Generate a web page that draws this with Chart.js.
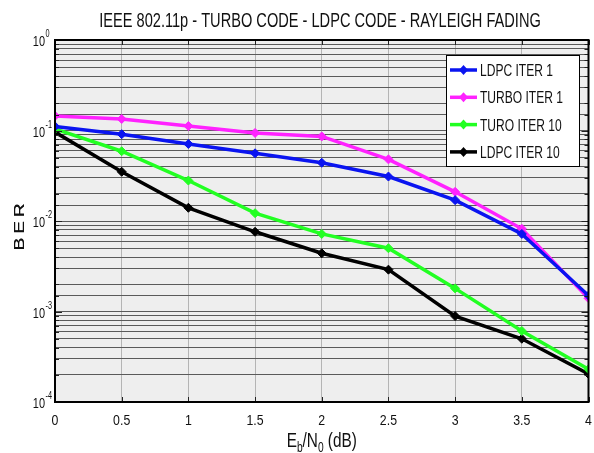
<!DOCTYPE html>
<html>
<head>
<meta charset="utf-8">
<script src="https://cdn.jsdelivr.net/npm/chart.js@4.4.1/dist/chart.umd.min.js"></script>
<style>
    body { margin: 0; background: #fff; }
    #box { width: 594px; height: 453px; }
</style>
</head>
<body>
<div id="box"><canvas id="graficoBer" width="594" height="453"></canvas></div>
<script>
// dados
const ebno = [0, 0.5, 1, 1.5, 2, 2.5, 3, 3.5, 4];
const ldpcIter1 = [0.111, 0.091, 0.071, 0.056, 0.044, 0.031, 0.017, 0.0072, 0.0015];
const turboIter1 = [0.145, 0.134, 0.112, 0.094, 0.086, 0.048, 0.021, 0.0082, 0.0014];
const turoIter10 = [0.104, 0.059, 0.028, 0.0122, 0.0072, 0.005, 0.0018, 0.00061, 0.00023];
const ldpcIter10 = [0.096, 0.035, 0.014, 0.0076, 0.0044, 0.0029, 0.00089, 0.0005, 0.000204];
const xTicks = ['0', '0.5', '1', '1.5', '2', '2.5', '3', '3.5', '4'];
const yDecadas = [0, -1, -2, -3, -4];

const fonte = "'Liberation Sans', Arial, sans-serif";
const aperto = 0.73; // texto da figura original e estreito

// escreve texto comprimido na horizontal
function texto(ctx, str, x, y, tam, alinha, esc) {
    ctx.save();
    ctx.font = tam + 'px ' + fonte;
    ctx.textAlign = alinha || 'left';
    ctx.textBaseline = 'alphabetic';
    ctx.translate(x, y);
    ctx.scale(esc || aperto, 1);
    ctx.fillText(str, 0, 0);
    ctx.restore();
}

function largura(ctx, str, tam) {
    ctx.font = tam + 'px ' + fonte;
    return ctx.measureText(str).width * aperto;
}

function serie(nome, cor, valores) {
    return {
        label: nome,
        data: ebno.map((x, i) => ({ x: x, y: valores[i] })),
        borderColor: cor,
        backgroundColor: cor,
        borderWidth: 3.5,
        pointStyle: 'rectRot',
        pointRadius: 4.5,
        pointBorderWidth: 1,
        tension: 0
    };
}

// fundo cinza, ticks internos, rotulos e legenda
const pluginDesenho = {
    id: 'desenho',
    beforeDraw(chart) {
        const { ctx, chartArea: a } = chart;
        ctx.save();
        ctx.fillStyle = '#eeeeee';
        ctx.fillRect(a.left, a.top, a.right - a.left, a.bottom - a.top);
        ctx.restore();
    },
    afterDraw(chart) {
        const { ctx, chartArea: a } = chart;
        const sx = chart.scales.x, sy = chart.scales.y;
        ctx.save();

        // ticks internos
        ctx.strokeStyle = '#222';
        ctx.lineWidth = 1;
        ctx.beginPath();
        xTicks.forEach(t => {
            const px = Math.round(sx.getPixelForValue(parseFloat(t))) + 0.5;
            ctx.moveTo(px, a.top); ctx.lineTo(px, a.top + 5);
            ctx.moveTo(px, a.bottom); ctx.lineTo(px, a.bottom - 5);
        });
        sy.ticks.forEach(t => {
            const py = Math.round(sy.getPixelForValue(t.value)) + 0.5;
            const m = Math.abs(Math.log10(t.value) - Math.round(Math.log10(t.value))) < 1e-6;
            const len = m ? 7 : 4;
            ctx.moveTo(a.right, py); ctx.lineTo(a.right - len, py);
            ctx.moveTo(a.left, py); ctx.lineTo(a.left + len, py);
        });
        ctx.stroke();

        // borda
        ctx.strokeStyle = '#000';
        ctx.lineWidth = 2;
        ctx.strokeRect(a.left, a.top, a.right - a.left, a.bottom - a.top);

        ctx.fillStyle = '#111';

        // rotulos eixo x
        xTicks.forEach(t => {
            texto(ctx, t, sx.getPixelForValue(parseFloat(t)), 425, 14, 'center', 0.88);
        });

        // rotulos eixo y (10^n)
        yDecadas.forEach(d => {
            const py = sy.getPixelForValue(Math.pow(10, d));
            texto(ctx, '10', 45, py + 6, 15, 'right');
            texto(ctx, String(d), 45.5, py - 3, 10, 'left');
        });

        // titulo eixo x: E_b/N_0 (dB)
        const partes = [['E', 21, 0], ['b', 14, 5], ['/N', 21, 0], ['0', 14, 5], [' (dB)', 21, 0]];
        let larg = 0;
        partes.forEach(p => { larg += largura(ctx, p[0], p[1]); });
        let cx = (a.left + a.right) / 2 - larg / 2;
        partes.forEach(p => {
            texto(ctx, p[0], cx, 447 + p[2], p[1], 'left');
            cx += largura(ctx, p[0], p[1]);
        });

        // titulo eixo y, letras espacadas
        ctx.save();
        ctx.translate(24, 227);
        ctx.scale(aperto, 1);
        ctx.rotate(-Math.PI / 2);
        ctx.font = '19px ' + fonte;
        ctx.textAlign = 'left';
        ctx.textBaseline = 'alphabetic';
        const letras = ['B', 'E', 'R'];
        const esp = 4;
        let tot = letras.reduce((s, l) => s + ctx.measureText(l).width, 0) + esp * 2;
        let lx0 = -tot / 2;
        letras.forEach(l => {
            ctx.fillText(l, lx0, 0);
            ctx.fillText(l, lx0 + 0.4, 0);
            lx0 += ctx.measureText(l).width + esp;
        });
        ctx.restore();

        // titulo
        texto(ctx, 'IEEE 802.11p - TURBO CODE - LDPC CODE - RAYLEIGH FADING', 320, 27, 20, 'center');

        // legenda
        const lx = 446, ly = 55, lw = 133, lh = 111;
        ctx.fillStyle = '#fff';
        ctx.fillRect(lx, ly, lw, lh);
        ctx.strokeStyle = '#000';
        ctx.lineWidth = 1;
        ctx.strokeRect(lx + 0.5, ly + 0.5, lw, lh);
        chart.data.datasets.forEach((ds, i) => {
            const yy = ly + 15 + i * 27.3;
            ctx.strokeStyle = ds.borderColor;
            ctx.fillStyle = ds.borderColor;
            ctx.lineWidth = 3.5;
            ctx.beginPath();
            ctx.moveTo(lx + 4, yy); ctx.lineTo(lx + 31, yy);
            ctx.stroke();
            ctx.beginPath();
            ctx.moveTo(lx + 17.5, yy - 5); ctx.lineTo(lx + 22, yy);
            ctx.lineTo(lx + 17.5, yy + 5); ctx.lineTo(lx + 13, yy);
            ctx.closePath();
            ctx.fill();
            ctx.fillStyle = '#111';
            texto(ctx, ds.label, lx + 34, yy + 6, 16.5, 'left');
        });
        ctx.restore();
    }
};

const config = {
    type: 'line',
    data: {
        datasets: [
            serie('LDPC ITER 1', '#0a14f0', ldpcIter1),
            serie('TURBO ITER 1', '#ff22ff', turboIter1),
            serie('TURO ITER 10', '#22ff22', turoIter10),
            serie('LDPC ITER 10', '#000000', ldpcIter10)
        ]
    },
    options: {
        responsive: false,
        animation: false,
        layout: { padding: { left: 55, right: 4, top: 40, bottom: 51 } },
        plugins: { legend: { display: false }, title: { display: false }, tooltip: { enabled: false } },
        scales: {
            x: {
                type: 'linear', min: 0, max: 4,
                ticks: { display: false, stepSize: 0.5 },
                grid: { color: '#b4b4b4', lineWidth: 1, drawTicks: false },
                border: { display: false }
            },
            y: {
                type: 'logarithmic', min: 0.0001, max: 1,
                ticks: { display: false },
                grid: { color: '#5a5a5a', lineWidth: 1, drawTicks: false },
                border: { display: false }
            }
        }
    },
    plugins: [pluginDesenho]
};

new Chart(document.getElementById('graficoBer'), config);
</script>
</body>
</html>
